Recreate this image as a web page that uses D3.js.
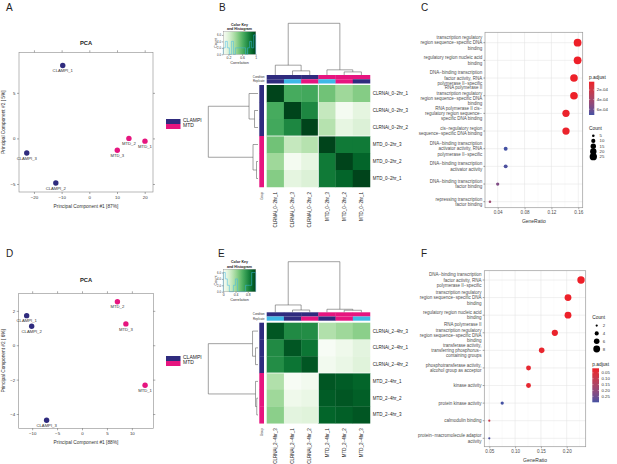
<!DOCTYPE html>
<html><head><meta charset="utf-8">
<script src="https://cdn.jsdelivr.net/npm/d3@7"></script>
<style>body{margin:0;background:#fff;overflow:hidden}</style>
</head><body>
<svg id="c" width="617" height="464" xmlns="http://www.w3.org/2000/svg"></svg>
<script>
// ---------------- DATA ----------------
const pcaA_names = ["CLAMPI_1","CLAMPI_2","CLAMPI_3","MTD_1","MTD_2","MTD_3"];
const pcaA_group = ["CLAMPI","CLAMPI","CLAMPI","MTD","MTD","MTD"];
const pcaA_pc1 = [-9.6,-12.1,-22.6,20.1,14.3,10.1];
const pcaA_pc2 = [8.0,-4.9,-1.6,-0.3,0.0,-1.3];
const pcaA_xTicks = [-20,-10,0,10,20];
const pcaA_yTicks = [-5,0,5];
const pcaA_xLab = "Principal Component #1 [87%]";
const pcaA_yLab = "Principal Component #2 [ 5%]";

const pcaD_names = ["CLAMPI_1","CLAMPI_2","CLAMPI_3","MTD_1","MTD_2","MTD_3"];
const pcaD_group = ["CLAMPI","CLAMPI","CLAMPI","MTD","MTD","MTD"];
const pcaD_pc1 = [-11.1,-10.1,-7.1,12.65,7.1,8.8];
const pcaD_pc2 = [1.72,1.1,-4.36,-2.33,2.53,1.24];
const pcaD_xTicks = [-10,-5,0,5,10];
const pcaD_yTicks = [-4,-2,0,2];
const pcaD_xLab = "Principal Component #1 [88%]";
const pcaD_yLab = "Principal Component #2 [ 6%]";

const legendGroups = ["CLAMPI","MTD"];

const heatB_labels = ["CLRNAi_0−2hr_1","CLRNAi_0−2hr_3","CLRNAi_0−2hr_2","MTD_0−2hr_3","MTD_0−2hr_2","MTD_0−2hr_1"];
const heatB_condition = ["CLAMPI","CLAMPI","CLAMPI","MTD","MTD","MTD"];
const heatB_replicate = [1,3,2,3,2,1];
const heatB_values = [
  [1.00,0.64,0.65,0.53,0.41,0.48],
  [0.64,1.00,0.78,0.29,0.07,0.16],
  [0.65,0.78,1.00,0.34,0.15,0.20],
  [0.53,0.29,0.34,1.00,0.83,0.83],
  [0.41,0.07,0.15,0.83,1.00,0.90],
  [0.48,0.16,0.20,0.83,0.90,1.00]];
const heatB_colTree = [1.0,[0.19,0,[0.08,1,2]],[0.10,3,[0.06,4,5]]];
const heatB_rowTree = [1.0,[0.18,0,[0.07,1,2]],[0.10,3,[0.03,4,5]]];
const heatB_keyDomain = [0.05,1.0];
const heatB_keyTicks = [0.2,0.6,1];

const heatE_labels = ["CLRNAi_2−4hr_3","CLRNAi_2−4hr_1","CLRNAi_2−4hr_2","MTD_2−4hr_1","MTD_2−4hr_2","MTD_2−4hr_3"];
const heatE_condition = ["CLAMPI","CLAMPI","CLAMPI","MTD","MTD","MTD"];
const heatE_replicate = [3,1,2,1,2,3];
const heatE_values = [
  [1.00,0.80,0.79,0.34,0.40,0.46],
  [0.80,1.00,0.89,0.00,0.06,0.13],
  [0.79,0.89,1.00,0.04,0.09,0.15],
  [0.34,0.00,0.04,1.00,0.98,0.95],
  [0.40,0.06,0.09,0.98,1.00,0.97],
  [0.46,0.13,0.15,0.95,0.97,1.00]];
const heatE_colTree = [1.0,[0.145,0,[0.045,1,2]],[0.06,3,[0.04,4,5]]];
const heatE_rowTree = [1.0,[0.11,0,[0.05,1,2]],[0.05,3,[0.025,4,5]]];
const heatE_keyDomain = [0.0,1.06];
const heatE_keyTicks = [0,0.4,0.8];

const dotC_terms = [
 "transcription regulatory\nregion sequence−specific DNA\nbinding",
 "regulatory region nucleic acid\nbinding",
 "DNA−binding transcription\nfactor activity, RNA\npolymerase II−specific",
 "RNA polymerase II\ntranscription regulatory\nregion sequence−specific DNA\nbinding",
 "RNA polymerase II cis−\nregulatory region sequence−\nspecific DNA binding",
 "cis−regulatory region\nsequence−specific DNA binding",
 "DNA−binding transcription\nactivator activity, RNA\npolymerase II−specific",
 "DNA−binding transcription\nactivator activity",
 "DNA−binding transcription\nfactor binding",
 "repressing transcription\nfactor binding"];
const dotC_ratio = [0.159,0.159,0.1536,0.1536,0.1417,0.1417,0.0519,0.0519,0.040,0.0285];
const dotC_padj = [2.8e-5,2.8e-5,3.5e-5,3.5e-5,4.5e-5,4.5e-5,7.2e-4,7.0e-4,5.5e-4,4.3e-4];
const dotC_count = [28,28,27,27,25,25,9,9,7,5];
const dotC_xTicks = [0.04,0.08,0.12,0.16];
const dotC_sizeBreaks = [5,10,15,20,25];
const dotC_colorBreaks = [2e-4,4e-4,6e-4];

const dotF_terms = [
 "DNA−binding transcription\nfactor activity, RNA\npolymerase II−specific",
 "transcription regulatory\nregion sequence−specific DNA\nbinding",
 "regulatory region nucleic acid\nbinding",
 "RNA polymerase II\ntranscription regulatory\nregion sequence−specific DNA\nbinding",
 "transferase activity,\ntransferring phosphorus−\ncontaining groups",
 "phosphotransferase activity,\nalcohol group as acceptor",
 "kinase activity",
 "protein kinase activity",
 "calmodulin binding",
 "protein−macromolecule adaptor\nactivity"];
const dotF_ratio = [0.2277,0.2025,0.2025,0.177,0.1515,0.126,0.126,0.075,0.050,0.050];
const dotF_padj = [0.012,0.015,0.015,0.020,0.025,0.030,0.030,0.300,0.090,0.290];
const dotF_count = [9,8,8,7,6,5,5,3,2,2];
const dotF_xTicks = [0.05,0.10,0.15,0.20];
const dotF_sizeBreaks = [2,4,6,8];
const dotF_colorBreaks = [0.05,0.10,0.15,0.20,0.25];

// ---------------- STYLE ----------------
const FONT = "'Liberation Sans', Arial, Helvetica, sans-serif";
const NAVY = "#2f2b7e", MAG = "#e6157f", CYAN = "#3fb8e6";
const RED = "#ee1f28", BLUE = "#4451a3";
const groupColor = {CLAMPI: NAVY, MTD: MAG};
const repColor = {1: NAVY, 2: MAG, 3: CYAN};

const svg = d3.select("#c").attr("font-family", FONT);
const defs = svg.append("defs");

function letter(t, x, y) {
  svg.append("text").attr("x", x).attr("y", y).attr("font-size", 10).attr("fill", "#222").text(t);
}
function styleAxis(a, fs, keepText) {
  a.attr("font-family", FONT).attr("font-size", fs);
  a.select(".domain").remove();
  a.selectAll(".tick line").attr("stroke", "#555").attr("stroke-width", 0.5);
  a.selectAll(".tick text").attr("fill", "#333");
  if (!keepText) a.selectAll(".tick text").remove();
}

// ---------------- PCA ----------------
function drawPCA(o) {
  const g = svg.append("g");
  const x = d3.scaleLinear().domain(o.xDom).range([o.x0, o.x1]);
  const y = d3.scaleLinear().domain(o.yDom).range([o.y1, o.y0]);
  g.append("rect").attr("x", o.x0).attr("y", o.y0).attr("width", o.x1 - o.x0).attr("height", o.y1 - o.y0)
    .attr("fill", "none").attr("stroke", "#8a8a8a").attr("stroke-width", 0.6);
  styleAxis(g.append("g").attr("transform", `translate(0,${o.y1})`).call(d3.axisBottom(x).tickValues(o.xTicks).tickSize(2).tickPadding(1.5)), 4.4, true);
  styleAxis(g.append("g").attr("transform", `translate(0,${o.y0})`).call(d3.axisTop(x).tickValues(o.xTicks).tickSize(2)), 4.4, false);
  styleAxis(g.append("g").attr("transform", `translate(${o.x0},0)`).call(d3.axisLeft(y).tickValues(o.yTicks).tickSize(2).tickPadding(1.5)), 4.4, true);
  styleAxis(g.append("g").attr("transform", `translate(${o.x1},0)`).call(d3.axisRight(y).tickValues(o.yTicks).tickSize(2)), 4.4, false);
  g.append("text").attr("x", (o.x0 + o.x1) / 2).attr("y", o.titleY).attr("text-anchor", "middle")
    .attr("font-weight", "bold").attr("font-size", 5.8).attr("fill", "#222").text("PCA");
  g.append("text").attr("x", (o.x0 + o.x1) / 2).attr("y", o.y1 + 15.6).attr("text-anchor", "middle")
    .attr("font-size", 4.8).attr("fill", "#333").text(o.xLab);
  g.append("text").attr("transform", `translate(4.8,${(o.y0 + o.y1) / 2}) rotate(-90)`).attr("text-anchor", "middle")
    .attr("font-size", 4.8).attr("fill", "#333").text(o.yLab);
  o.names.forEach((nm, i) => {
    g.append("circle").attr("cx", x(o.pc1[i])).attr("cy", y(o.pc2[i])).attr("r", 2.7).attr("fill", groupColor[o.group[i]]);
    g.append("text").attr("x", x(o.pc1[i])).attr("y", y(o.pc2[i]) + 6.7).attr("text-anchor", "middle")
      .attr("font-size", 4.2).attr("fill", "#333").text(nm);
  });
  legendGroups.forEach((gr, i) => {
    g.append("rect").attr("x", 166).attr("y", o.legY + i * 5).attr("width", 14.5).attr("height", 5).attr("fill", groupColor[gr]);
    g.append("text").attr("x", 183).attr("y", o.legY + i * 5 + 3.3).attr("font-size", 5).attr("fill", "#222").text(gr);
  });
}

// ---------------- HEATMAP ----------------
function dend(g, node, posOf, hs, horiz) {
  if (typeof node === "number") return {p: posOf(node), h: 0};
  const [h, a, b] = node;
  const A = dend(g, a, posOf, hs, horiz), B = dend(g, b, posOf, hs, horiz);
  const H = hs(h);
  const d = horiz
    ? `M${hs(A.h)},${A.p}H${H}V${B.p}H${hs(B.h)}`
    : `M${A.p},${hs(A.h)}V${H}H${B.p}V${hs(B.h)}`;
  g.append("path").attr("d", d).attr("fill", "none").attr("stroke", "#555").attr("stroke-width", 0.55);
  return {p: (A.p + B.p) / 2, h};
}

function drawHeat(o) {
  const g = svg.append("g");
  const n = o.labels.length;
  const bx = d3.scaleBand().domain(d3.range(n)).range([o.hx0, o.hx1]);
  const by = d3.scaleBand().domain(d3.range(n)).range([o.hy0, o.hy1]);
  const cs = d3.scaleSequential(d3.interpolateGreens).domain(o.keyDom);
  o.values.forEach((row, i) => row.forEach((v, j) => {
    g.append("rect").attr("x", bx(j)).attr("y", by(i)).attr("width", bx.bandwidth() + 0.25)
      .attr("height", by.bandwidth() + 0.25).attr("fill", cs(v));
  }));
  // block separators
  g.append("line").attr("x1", bx(3)).attr("x2", bx(3)).attr("y1", o.hy0).attr("y2", o.hy1).attr("stroke", "#fff").attr("stroke-width", 0.8);
  g.append("line").attr("x1", o.hx0).attr("x2", o.hx1).attr("y1", by(3)).attr("y2", by(3)).attr("stroke", "#fff").attr("stroke-width", 0.8);
  // condition / replicate bars
  const bh = (o.barBot - o.barTop) / 2;
  o.condition.forEach((c, j) => {
    g.append("rect").attr("x", bx(j)).attr("y", o.barTop).attr("width", bx.bandwidth() + 0.25).attr("height", bh).attr("fill", groupColor[c]);
    g.append("rect").attr("x", bx(j)).attr("y", o.barTop + bh).attr("width", bx.bandwidth() + 0.25).attr("height", bh).attr("fill", repColor[o.replicate[j]]);
  });
  g.append("text").attr("x", o.hx0 - 2).attr("y", o.barTop + bh * 0.5 + 1).attr("text-anchor", "end").attr("font-size", 2.8).attr("fill", "#333").text("Condition");
  g.append("text").attr("x", o.hx0 - 2).attr("y", o.barTop + bh * 1.5 + 1).attr("text-anchor", "end").attr("font-size", 2.8).attr("fill", "#333").text("Replicate");
  // group side bar
  o.condition.forEach((c, i) => {
    g.append("rect").attr("x", 259.3).attr("y", by(i)).attr("width", 4.7).attr("height", by.bandwidth() + 0.25).attr("fill", groupColor[c]);
  });
  g.append("text").attr("transform", `translate(262.8,${o.hy1 + 5}) rotate(-90)`).attr("text-anchor", "end")
    .attr("font-size", 2.8).attr("fill", "#333").text("Group");
  // dendrograms
  const hsC = d3.scaleLinear().domain([0, 1]).range([o.barTop, o.cdTop]);
  dend(g, o.colTree, j => bx(j) + bx.bandwidth() / 2, hsC, false);
  const hsR = d3.scaleLinear().domain([0, 1]).range([258, 208.3]);
  dend(g, o.rowTree, i => by(i) + by.bandwidth() / 2, hsR, true);
  // labels
  o.labels.forEach((l, i) => {
    g.append("text").attr("x", o.hx1 + 2.7).attr("y", by(i) + by.bandwidth() / 2).attr("dy", "0.35em")
      .attr("font-size", 4.5).attr("fill", "#222").text(l);
    g.append("text").attr("transform", `translate(${bx(i) + bx.bandwidth() / 2},${o.hy1 + 5}) rotate(-90)`)
      .attr("dy", "0.35em").attr("text-anchor", "end").attr("font-size", 4.5).attr("fill", "#222").text(l);
  });
  // color key
  const k = o.key;
  const gid = "kg" + o.id;
  const lg = defs.append("linearGradient").attr("id", gid).attr("x1", 0).attr("x2", 1).attr("y1", 0).attr("y2", 0);
  d3.range(0, 1.0001, 0.1).forEach(t => lg.append("stop").attr("offset", t).attr("stop-color", d3.interpolateGreens(t)));
  g.append("rect").attr("x", k.x0).attr("y", k.y0).attr("width", k.x1 - k.x0).attr("height", k.y1 - k.y0).attr("fill", `url(#${gid})`);
  const kx = d3.scaleLinear().domain(o.keyDom).range([k.x0, k.x1]);
  const nb = 16, step = (o.keyDom[1] - o.keyDom[0]) / nb;
  const bins = d3.bin().domain(o.keyDom).thresholds(d3.range(1, nb).map(i => o.keyDom[0] + i * step))(o.values.flat());
  const ky = d3.scaleLinear().domain([0, 7]).range([k.y1, k.y0]);
  let p = `M${k.x0},${k.y1}`;
  bins.forEach(b => { p += `V${ky(b.length)}H${kx(b.x1)}`; });
  p += `V${k.y1}`;
  g.append("path").attr("d", p).attr("fill", "none").attr("stroke", CYAN).attr("stroke-width", 0.5);
  g.append("rect").attr("x", k.x0).attr("y", k.y0).attr("width", k.x1 - k.x0).attr("height", k.y1 - k.y0).attr("fill", "none").attr("stroke", "#666").attr("stroke-width", 0.3);
  styleAxis(g.append("g").attr("transform", `translate(0,${k.y1})`).call(d3.axisBottom(kx).tickValues(o.keyTicks).tickSize(1.5).tickPadding(0.8).tickFormat(d3.format("~g"))), 3.4, true);
  const ya = g.append("g").attr("transform", `translate(${k.x0},0)`).call(d3.axisLeft(ky).tickValues([0, 2, 4, 6]).tickSize(1.5).tickPadding(0.8));
  styleAxis(ya, 2.8, true);
  g.append("text").attr("transform", `translate(${k.x0 - 6},${(k.y0 + k.y1) / 2}) rotate(-90)`).attr("text-anchor", "middle")
    .attr("font-size", 3.8).attr("fill", "#333").text("Count");
  g.append("text").attr("x", (k.x0 + k.x1) / 2).attr("y", k.y1 + 9.6).attr("text-anchor", "middle")
    .attr("font-size", 3.8).attr("fill", "#333").text("Correlation");
  g.append("text").attr("x", (k.x0 + k.x1) / 2).attr("y", k.y0 - 6).attr("text-anchor", "middle")
    .attr("font-size", 3.6).attr("font-weight", "bold").attr("fill", "#222").text("Color Key");
  g.append("text").attr("x", (k.x0 + k.x1) / 2).attr("y", k.y0 - 1.6).attr("text-anchor", "middle")
    .attr("font-size", 3.6).attr("font-weight", "bold").attr("fill", "#222").text("and Histogram");
}

// ---------------- DOT PLOT ----------------
function drawDot(o) {
  const g = svg.append("g");
  const n = o.terms.length;
  const x = d3.scaleLinear().domain(o.xDom).range([o.x0, o.x1]);
  const y = d3.scalePoint().domain(d3.range(n)).range([o.y0 + o.padTop, o.y1 - o.padBot]);
  const r = d3.scaleSqrt().domain(o.sizeDom).range(o.sizeRange);
  const c = d3.scaleLinear().domain(o.colDom).range([RED, BLUE]).interpolate(d3.interpolateLab).clamp(true);
  g.append("rect").attr("x", o.x0).attr("y", o.y0).attr("width", o.x1 - o.x0).attr("height", o.y1 - o.y0).attr("fill", "#fff");
  const t = o.xTicks, dt = t[1] - t[0];
  const minor = [t[0] - dt / 2].concat(t.map(v => v + dt / 2)).filter(v => v > o.xDom[0] && v < o.xDom[1]);
  minor.forEach(v => g.append("line").attr("x1", x(v)).attr("x2", x(v)).attr("y1", o.y0).attr("y2", o.y1).attr("stroke", "#f2f2f2").attr("stroke-width", 0.35));
  t.forEach(v => g.append("line").attr("x1", x(v)).attr("x2", x(v)).attr("y1", o.y0).attr("y2", o.y1).attr("stroke", "#e3e3e3").attr("stroke-width", 0.55));
  d3.range(n).forEach(i => g.append("line").attr("x1", o.x0).attr("x2", o.x1).attr("y1", y(i)).attr("y2", y(i)).attr("stroke", "#e3e3e3").attr("stroke-width", 0.55));
  g.append("rect").attr("x", o.x0).attr("y", o.y0).attr("width", o.x1 - o.x0).attr("height", o.y1 - o.y0)
    .attr("fill", "none").attr("stroke", "#9a9a9a").attr("stroke-width", 0.7);
  styleAxis(g.append("g").attr("transform", `translate(0,${o.y1})`).call(d3.axisBottom(x).tickValues(t).tickSize(1.6).tickPadding(1.2).tickFormat(d3.format(o.fmt))), 4.6, true);
  g.selectAll(".tick text").attr("fill", "#4d4d4d");
  d3.range(n).forEach(i => g.append("line").attr("x1", o.x0 - 1.6).attr("x2", o.x0).attr("y1", y(i)).attr("y2", y(i)).attr("stroke", "#444").attr("stroke-width", 0.5));
  o.terms.forEach((term, i) => {
    const lines = term.split("\n");
    const lh = 5.35;
    const tx = g.append("text").attr("text-anchor", "end").attr("font-size", 4.5).attr("fill", "#4d4d4d");
    lines.forEach((ln, j) => {
      tx.append("tspan").attr("x", o.x0 - 2.8).attr("y", y(i) + (j - (lines.length - 1) / 2) * lh).attr("dy", "0.35em").text(ln);
    });
  });
  g.append("text").attr("x", (o.x0 + o.x1) / 2).attr("y", o.y1 + 15.3).attr("text-anchor", "middle")
    .attr("font-size", 5).attr("fill", "#333").text("GeneRatio");
  o.ratio.forEach((v, i) => {
    g.append("circle").attr("cx", x(v)).attr("cy", y(i)).attr("r", r(o.count[i])).attr("fill", c(o.padj[i]));
  });
  // size legend
  const sl = o.sizeLeg;
  g.append("text").attr("x", sl.x).attr("y", sl.y).attr("font-size", 4.8).attr("fill", "#222").text("Count");
  o.sizeBreaks.forEach((b, i) => {
    const cy = sl.y + sl.first + i * sl.step;
    g.append("circle").attr("cx", sl.cx).attr("cy", cy).attr("r", r(b)).attr("fill", "#000");
    g.append("text").attr("x", sl.tx).attr("y", cy).attr("dy", "0.35em").attr("font-size", 4.3).attr("fill", "#333").text(b);
  });
  // color legend
  const cl = o.colLeg;
  g.append("text").attr("x", cl.x).attr("y", cl.y).attr("font-size", 4.8).attr("fill", "#222").text("p.adjust");
  const gid = "cg" + o.id;
  const lg = defs.append("linearGradient").attr("id", gid).attr("x1", 0).attr("x2", 0).attr("y1", 0).attr("y2", 1);
  d3.range(0, 1.0001, 0.1).forEach(tt => lg.append("stop").attr("offset", tt).attr("stop-color", c(o.colDom[0] + tt * (o.colDom[1] - o.colDom[0]))));
  g.append("rect").attr("x", cl.x).attr("y", cl.b0).attr("width", cl.w).attr("height", cl.b1 - cl.b0).attr("fill", `url(#${gid})`);
  const cy = d3.scaleLinear().domain(o.colDom).range([cl.b0, cl.b1]);
  o.colorBreaks.forEach(b => {
    g.append("line").attr("x1", cl.x).attr("x2", cl.x + 1.2).attr("y1", cy(b)).attr("y2", cy(b)).attr("stroke", "#fff").attr("stroke-width", 0.4);
    g.append("line").attr("x1", cl.x + cl.w - 1.2).attr("x2", cl.x + cl.w).attr("y1", cy(b)).attr("y2", cy(b)).attr("stroke", "#fff").attr("stroke-width", 0.4);
    g.append("text").attr("x", cl.x + cl.w + 2.5).attr("y", cy(b)).attr("dy", "0.35em").attr("font-size", 4.3).attr("fill", "#333").text(o.colFmt(b));
  });
}

function sciFmt(v) {
  const [m, e] = v.toExponential(0).split("e");
  const s = e[0] === "-" ? "-" : "+";
  return m + "e" + s + String(Math.abs(+e)).padStart(2, "0");
}

// ---------------- DRAW ----------------
letter("A", 6, 10.5); letter("B", 219, 10.5); letter("C", 421, 10.5);
letter("D", 6, 257); letter("E", 218, 256.5); letter("F", 421, 257);

drawPCA({x0: 19, x1: 153, y0: 52.3, y1: 192, xDom: [-25.4, 23.0], yDom: [-5.88, 9.45],
  xTicks: pcaA_xTicks, yTicks: pcaA_yTicks, names: pcaA_names, group: pcaA_group, pc1: pcaA_pc1, pc2: pcaA_pc2,
  xLab: pcaA_xLab, yLab: pcaA_yLab, titleY: 44.7, legY: 119});
drawPCA({x0: 18.7, x1: 153.3, y0: 293.3, y1: 428.3, xDom: [-12.7, 14.3], yDom: [-4.83, 3.02],
  xTicks: pcaD_xTicks, yTicks: pcaD_yTicks, names: pcaD_names, group: pcaD_group, pc1: pcaD_pc1, pc2: pcaD_pc2,
  xLab: pcaD_xLab, yLab: pcaD_yLab, titleY: 282, legY: 356});

drawHeat({id: "B", labels: heatB_labels, condition: heatB_condition, replicate: heatB_replicate, values: heatB_values,
  colTree: heatB_colTree, rowTree: heatB_rowTree, keyDom: heatB_keyDomain, keyTicks: heatB_keyTicks,
  hx0: 266.7, hx1: 370, hy0: 85, hy1: 187, barTop: 75, barBot: 83.5, cdTop: 23.3,
  key: {x0: 223.3, x1: 255.7, y0: 31.7, y1: 54.3}});
drawHeat({id: "E", labels: heatE_labels, condition: heatE_condition, replicate: heatE_replicate, values: heatE_values,
  colTree: heatE_colTree, rowTree: heatE_rowTree, keyDom: heatE_keyDomain, keyTicks: heatE_keyTicks,
  hx0: 266.7, hx1: 370, hy0: 322.7, hy1: 423.3, barTop: 312.3, barBot: 320.7, cdTop: 261.7,
  key: {x0: 223.3, x1: 255.7, y0: 269.3, y1: 291.7}});

drawDot({id: "C", terms: dotC_terms, ratio: dotC_ratio, padj: dotC_padj, count: dotC_count,
  x0: 485, x1: 582.7, y0: 32.3, y1: 207.7, padTop: 10.4, padBot: 6, xDom: [0.0211, 0.1666], xTicks: dotC_xTicks, fmt: ".2f",
  sizeDom: [5, 28], sizeRange: [1.3, 3.9], colDom: [2.8e-5, 7.2e-4],
  sizeBreaks: dotC_sizeBreaks, colorBreaks: dotC_colorBreaks, colFmt: sciFmt,
  sizeLeg: {x: 589, y: 129.5, first: 6.2, step: 5.25, cx: 593.3, tx: 599.5},
  colLeg: {x: 589, y: 78.5, b0: 81.7, b1: 115, w: 5.3}});
drawDot({id: "F", terms: dotF_terms, ratio: dotF_ratio, padj: dotF_padj, count: dotF_count,
  x0: 484.3, x1: 585.7, y0: 270.7, y1: 446.7, padTop: 9.3, padBot: 8.4, xDom: [0.0403, 0.2368], xTicks: dotF_xTicks, fmt: ".2f",
  sizeDom: [2, 9], sizeRange: [1.1, 3.7], colDom: [0.012, 0.30],
  sizeBreaks: dotF_sizeBreaks, colorBreaks: dotF_colorBreaks, colFmt: d3.format(".2f"),
  sizeLeg: {x: 592.3, y: 319, first: 6.6, step: 7.8, cx: 596.7, tx: 602.7},
  colLeg: {x: 592.3, y: 366, b0: 368.3, b1: 402.3, w: 6.7}});
</script>
</body></html>
